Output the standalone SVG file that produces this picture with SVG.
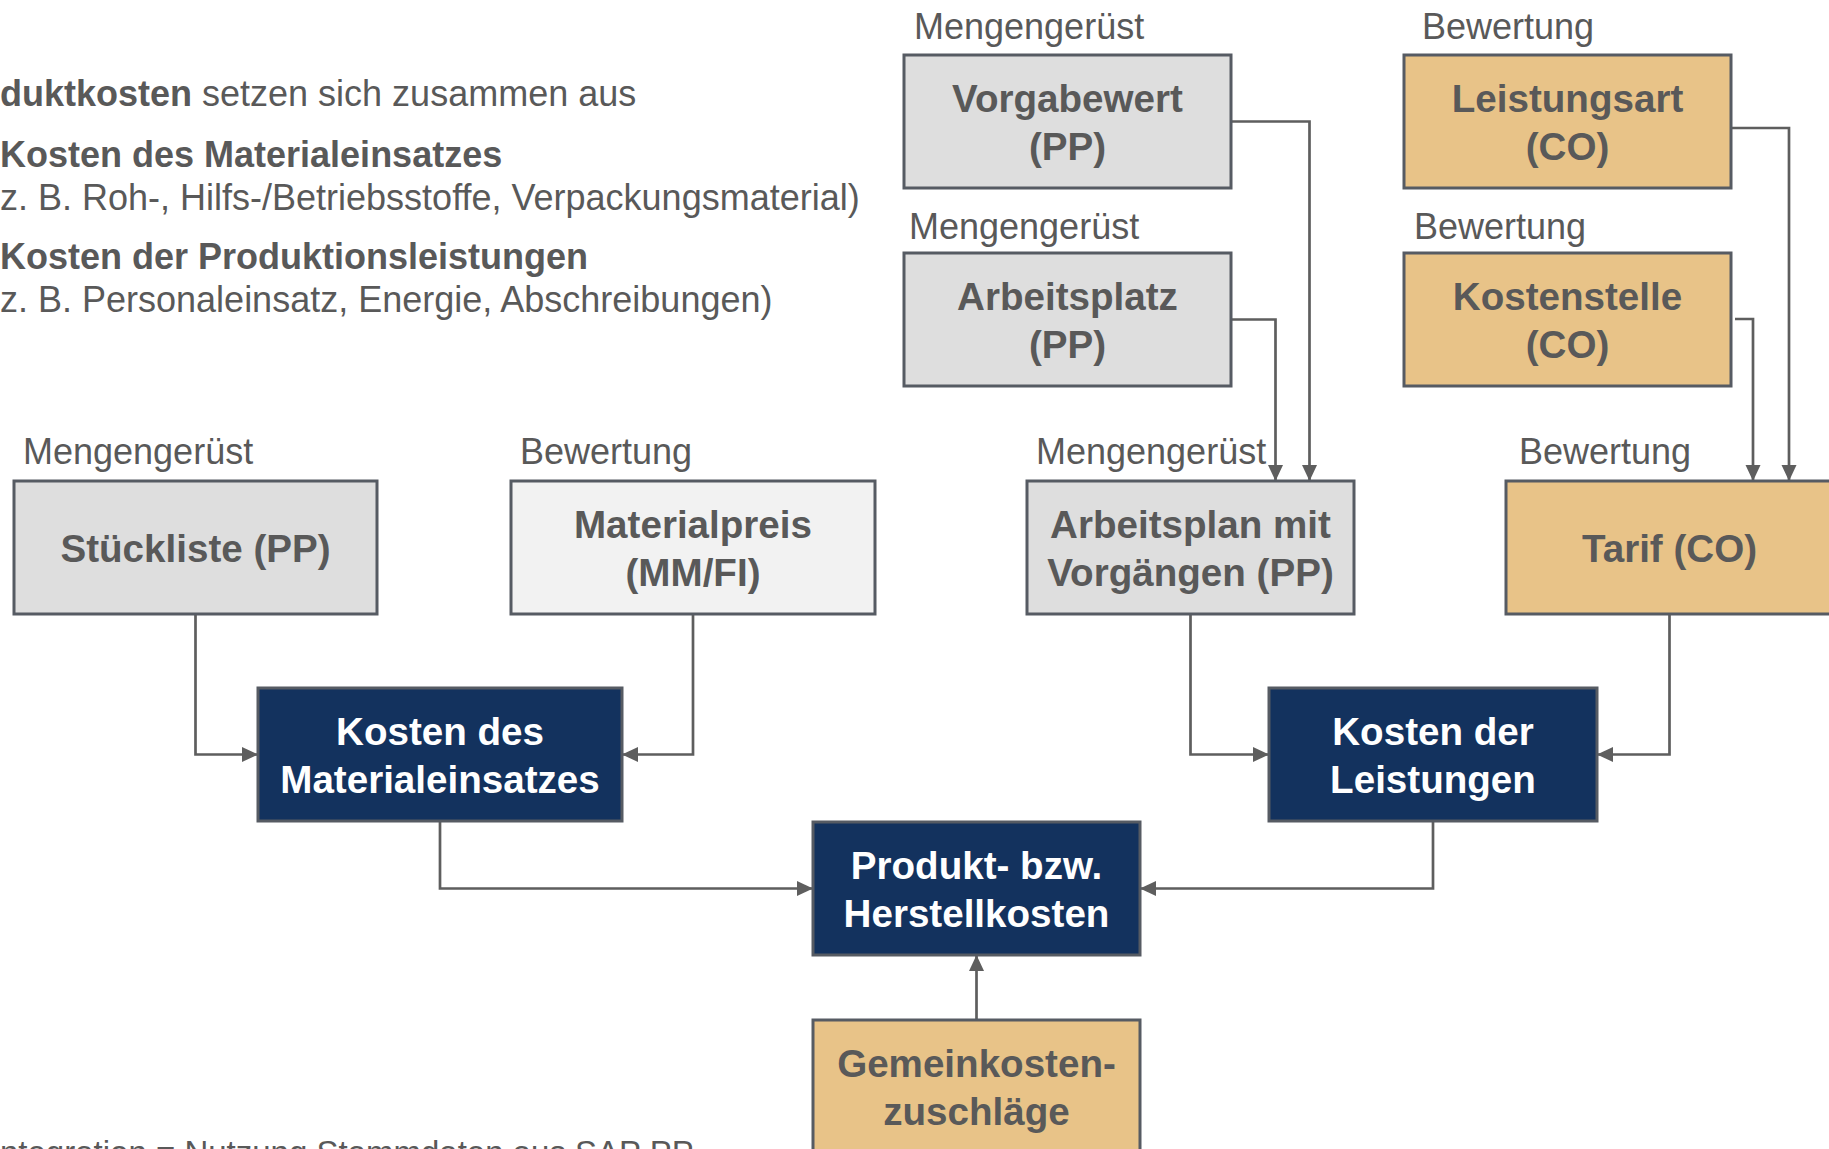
<svg xmlns="http://www.w3.org/2000/svg" width="1829" height="1149" viewBox="0 0 1829 1149">
<style>
  text { font-family: "Liberation Sans", Arial, sans-serif; fill: #595959; }
  .hdr { font-size: 36px; }
  .lbl { font-size: 36px; }
  .nt { font-size: 38.6px; font-weight: bold; text-anchor: middle; }
  .wt { fill: #ffffff; }
  .box { stroke: #565b63; stroke-width: 3; }
  .gray { fill: #dedede; }
  .light { fill: #f2f2f2; }
  .orange { fill: #e8c388; }
  .navy { fill: #13325e; }
  .conn { fill: none; stroke: #5e5e5e; stroke-width: 2.7; }
</style>
<defs>
  <marker id="arr" markerUnits="userSpaceOnUse" markerWidth="17" markerHeight="16" refX="16" refY="7.5" orient="auto">
    <path d="M0,0 L16,7.5 L0,15 z" fill="#5e5e5e"/>
  </marker>
</defs>
<rect width="1829" height="1149" fill="#ffffff"/>

<g id="header">
  <text class="hdr" x="0" y="106"><tspan font-weight="bold">duktkosten</tspan> setzen sich zusammen aus</text>
  <text class="hdr" x="0" y="167" font-weight="bold">Kosten des Materialeinsatzes</text>
  <text class="hdr" x="0" y="210">z. B. Roh-, Hilfs-/Betriebsstoffe, Verpackungsmaterial)</text>
  <text class="hdr" x="0" y="269" font-weight="bold">Kosten der Produktionsleistungen</text>
  <text class="hdr" x="0" y="312">z. B. Personaleinsatz, Energie, Abschreibungen)</text>
  <text x="0" y="1164" font-size="33">ntegration = Nutzung Stammdaten aus SAP PP</text>
</g>

<g id="labels">
  <text class="lbl" x="914" y="39">Mengengerüst</text>
  <text class="lbl" x="909" y="239">Mengengerüst</text>
  <text class="lbl" x="1422" y="39">Bewertung</text>
  <text class="lbl" x="1414" y="239">Bewertung</text>
  <text class="lbl" x="1036" y="464">Mengengerüst</text>
  <text class="lbl" x="1519" y="464">Bewertung</text>
  <text class="lbl" x="23" y="464">Mengengerüst</text>
  <text class="lbl" x="520" y="464">Bewertung</text>
</g>

<g id="connectors">
  <path class="conn" d="M195.5,614 V754.5 H258" marker-end="url(#arr)"/>
  <path class="conn" d="M693,614 V754.5 H622" marker-end="url(#arr)"/>
  <path class="conn" d="M440,821 V888.5 H813" marker-end="url(#arr)"/>
  <path class="conn" d="M1433,821 V888.5 H1140" marker-end="url(#arr)"/>
  <path class="conn" d="M1190.5,614 V754.5 H1269" marker-end="url(#arr)"/>
  <path class="conn" d="M1669.5,614 V754.5 H1597" marker-end="url(#arr)"/>
  <path class="conn" d="M976.5,1020 V955" marker-end="url(#arr)"/>
  <path class="conn" d="M1232,121.5 H1309.5 V481" marker-end="url(#arr)"/>
  <path class="conn" d="M1232,319.5 H1275.5 V481" marker-end="url(#arr)"/>
  <path class="conn" d="M1732,128 H1789 V481" marker-end="url(#arr)"/>
  <path class="conn" d="M1735,319 H1753 V481" marker-end="url(#arr)"/>
</g>

<g id="vorgabewert">
  <rect class="box gray" x="904" y="55" width="327" height="133"/>
  <text class="nt" x="1067.5" y="111.5">Vorgabewert</text>
  <text class="nt" x="1067.5" y="159.5">(PP)</text>
</g>
<g id="arbeitsplatz">
  <rect class="box gray" x="904" y="253" width="327" height="133"/>
  <text class="nt" x="1067.5" y="309.5">Arbeitsplatz</text>
  <text class="nt" x="1067.5" y="357.5">(PP)</text>
</g>
<g id="leistungsart">
  <rect class="box orange" x="1404" y="55" width="327" height="133"/>
  <text class="nt" x="1567.5" y="111.5">Leistungsart</text>
  <text class="nt" x="1567.5" y="159.5">(CO)</text>
</g>
<g id="kostenstelle">
  <rect class="box orange" x="1404" y="253" width="327" height="133"/>
  <text class="nt" x="1567.5" y="309.5">Kostenstelle</text>
  <text class="nt" x="1567.5" y="357.5">(CO)</text>
</g>
<g id="stueckliste">
  <rect class="box gray" x="14" y="481" width="363" height="133"/>
  <text class="nt" x="195.5" y="561.5">Stückliste (PP)</text>
</g>
<g id="materialpreis">
  <rect class="box light" x="511" y="481" width="364" height="133"/>
  <text class="nt" x="693" y="537.5">Materialpreis</text>
  <text class="nt" x="693" y="585.5">(MM/FI)</text>
</g>
<g id="arbeitsplan">
  <rect class="box gray" x="1027" y="481" width="327" height="133"/>
  <text class="nt" x="1190.5" y="537.5">Arbeitsplan mit</text>
  <text class="nt" x="1190.5" y="585.5">Vorgängen (PP)</text>
</g>
<g id="tarif">
  <rect class="box orange" x="1506" y="481" width="327" height="133"/>
  <text class="nt" x="1669.5" y="561.5">Tarif (CO)</text>
</g>
<g id="kosten-material">
  <rect class="box navy" x="258" y="688" width="364" height="133"/>
  <text class="nt wt" x="440" y="744.5">Kosten des</text>
  <text class="nt wt" x="440" y="792.5">Materialeinsatzes</text>
</g>
<g id="kosten-leistungen">
  <rect class="box navy" x="1269" y="688" width="328" height="133"/>
  <text class="nt wt" x="1433" y="744.5">Kosten der</text>
  <text class="nt wt" x="1433" y="792.5">Leistungen</text>
</g>
<g id="herstellkosten">
  <rect class="box navy" x="813" y="822" width="327" height="133"/>
  <text class="nt wt" x="976.5" y="878.5">Produkt- bzw.</text>
  <text class="nt wt" x="976.5" y="926.5">Herstellkosten</text>
</g>
<g id="gemeinkosten">
  <rect class="box orange" x="813" y="1020" width="327" height="133"/>
  <text class="nt" x="976.5" y="1076.5">Gemeinkosten-</text>
  <text class="nt" x="976.5" y="1124.5">zuschläge</text>
</g>
</svg>
